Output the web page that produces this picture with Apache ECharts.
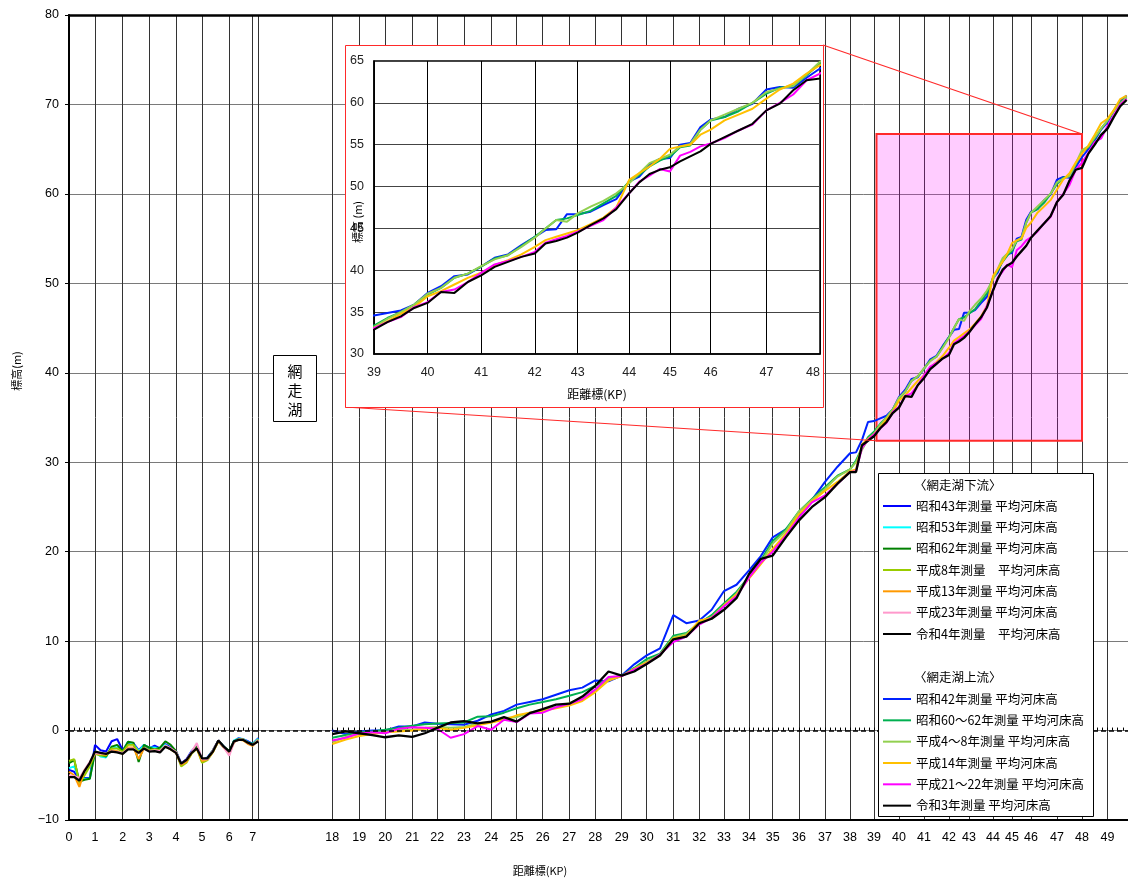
<!DOCTYPE html>
<html><head><meta charset="utf-8">
<script src="https://cdn.jsdelivr.net/npm/echarts@6/dist/echarts.min.js"></script>
<style>html,body{margin:0;padding:0;background:#fff}#c{width:1128px;height:879px}</style>
</head><body><div id="c"></div>
<script>
// ---------------- DATA ----------------
// 距離標 (KP) tick labels
const kpLabels = [0,1,2,3,4,5,6,7,18,19,20,21,22,23,24,25,26,27,28,29,30,31,32,33,34,35,36,37,38,39,40,41,42,43,44,45,46,47,48,49];
const insetLabels = [39,40,41,42,43,44,45,46,47,48];

// 網走湖下流 (downstream) cross-section KP
const kpDown = [0,0.2,0.4,0.6,0.8,1,1.2,1.4,1.6,1.8,2,2.2,2.4,2.6,2.8,3,3.2,3.4,3.6,3.8,4,4.2,4.4,4.6,4.8,5,5.2,5.4,5.6,5.8,6,6.2,6.4,6.6,6.8,7,7.2];
const downNames = ['昭和43年測量 平均河床高','昭和53年測量 平均河床高','昭和62年測量 平均河床高','平成8年測量　平均河床高','平成13年測量 平均河床高','平成23年測量 平均河床高','令和4年測量　平均河床高'];
const downS43 = [-4.4,-4.6,-5.5,-5.3,-5.3,-1.6,-2.2,-2.35,-1.2,-0.95,-2.2,-1.35,-1.4,-2.2,-1.6,-2.0,-1.7,-2.0,-1.5,-1.9,-2.3,-3.65,-3.2,-2.3,-1.7,-3.3,-3.0,-2.2,-1.1,-1.8,-2.5,-1.2,-0.85,-1.0,-1.2,-1.5,-0.85];
const downS53 = [-4.2,-4.0,-5.5,-5.4,-5.4,-2.3,-2.9,-3.0,-1.8,-1.9,-2.3,-1.25,-1.5,-2.3,-1.6,-1.9,-1.9,-2.0,-1.6,-2.1,-2.4,-3.7,-3.4,-2.4,-1.8,-3.3,-3.1,-2.2,-1.2,-1.8,-2.4,-1.1,-0.9,-0.95,-1.3,-1.5,-0.9];
const downS62 = [-3.65,-3.3,-5.7,-5.5,-5.4,-2.5,-2.7,-2.9,-1.8,-1.6,-2.3,-1.25,-1.35,-3.5,-1.6,-1.9,-2.1,-1.9,-1.2,-1.6,-2.3,-3.85,-3.45,-2.5,-1.8,-3.45,-3.1,-2.2,-1.1,-1.8,-2.3,-1.2,-0.95,-1.0,-1.4,-1.5,-1.1];
const downH8  = [-3.4,-3.2,-5.9,-5.0,-4.0,-2.6,-2.8,-2.8,-2.0,-2.0,-2.4,-1.6,-1.6,-2.4,-1.9,-2.2,-2.1,-2.2,-1.7,-2.0,-2.4,-4.0,-3.6,-2.6,-2.0,-3.6,-3.3,-2.4,-1.2,-1.9,-2.4,-1.3,-1.0,-1.0,-1.4,-1.6,-1.0];
const downH13 = [-4.6,-5.0,-6.3,-4.4,-3.7,-2.5,-2.6,-2.7,-2.2,-2.3,-2.6,-1.9,-1.9,-3.2,-2.0,-2.3,-2.2,-2.3,-1.8,-2.1,-2.5,-3.8,-3.5,-2.5,-2.0,-3.4,-3.2,-2.4,-1.2,-1.9,-2.6,-1.3,-1.0,-1.1,-1.5,-1.7,-1.1];
const downH23 = [-5.0,-5.1,-5.3,-4.4,-3.5,-2.5,-2.6,-2.6,-2.3,-2.4,-2.5,-2.0,-2.0,-2.5,-2.0,-2.3,-2.2,-2.3,-1.7,-2.0,-2.4,-3.7,-3.3,-2.4,-1.4,-3.2,-3.2,-2.2,-1.1,-1.9,-2.8,-1.3,-1.0,-1.0,-1.4,-1.6,-1.1];
const downR4  = [-5.2,-5.2,-5.6,-4.5,-3.6,-2.35,-2.5,-2.6,-2.35,-2.45,-2.6,-2.1,-2.1,-2.5,-2.0,-2.35,-2.3,-2.45,-1.8,-2.1,-2.5,-3.7,-3.3,-2.5,-2.0,-3.1,-3.1,-2.35,-1.1,-1.8,-2.35,-1.2,-1.05,-1.05,-1.35,-1.6,-1.2];

// 網走湖上流 (upstream) cross-section KP
const kpUp = [18,18.5,19,19.5,20,20.5,21,21.5,22,22.5,23,23.5,24,24.5,25,25.5,26,26.5,27,27.5,28,28.5,29,29.5,30,30.5,31,31.5,32,32.5,33,33.5,34,34.5,35,35.5,36,36.5,37,37.5,38,
  38.25,38.5,38.75,39,39.25,39.5,39.75,40,40.25,40.5,40.75,41,41.25,41.5,41.75,42,42.25,42.5,42.75,43,43.25,43.5,43.75,44,44.25,44.5,44.75,45,45.25,45.5,45.75,46,46.25,46.5,46.75,47,47.25,47.5,47.75,48,48.25,48.5,48.75,49,49.25,49.5,49.75];
const upNames = ['昭和42年測量 平均河床高','昭和60～62年測量 平均河床高','平成4～8年測量 平均河床高','平成14年測量 平均河床高','平成21～22年測量 平均河床高','令和3年測量 平均河床高'];
const upS42 = [0.0,-0.4,-0.1,0.0,0.0,0.45,0.45,0.9,0.75, 0.7,0.65,1.1,1.8,2.2,2.9,3.2,3.5, 4.0,4.5,4.8,5.6,5.5,6.15,7.4,8.4, 9.2,12.9,12.0,12.3,13.5,15.6,16.3,17.9, 19.5,21.6,22.5,24.0,25.8,27.8,29.5,31.0,
  31.1,32.5,34.5,34.6,34.9,35.2,35.9, 37.3,38.1,39.3,39.5,40.45,41.5,41.9,43.0, 44.0,44.8,44.9,46.7,46.7,47.0,47.8,48.5, 50.6,51.2,52.6,53.3,53.4,55.0,55.2,57.1, 58.0,58.3,59.3,59.9,61.6,61.9,61.8,63.0, 64.1,65.0,66.0,67.2,68.0,69.3,70.4,71.0];
const upS60 = [-0.8,-0.5,-0.2,-0.1,0.1,0.3,0.55,0.7,0.8, 0.85,0.9,1.55,1.6,2.0,2.5,2.9,3.2, 3.5,3.9,4.3,5.0,5.8,6.15,7.0,8.0, 8.6,10.6,10.9,12.0,12.9,14.2,15.5,17.2, 19.0,21.2,22.5,24.5,25.9,27.2,28.5,29.2,
  30.2,31.6,32.8,33.4,34.3,35.0,35.9, 37.1,37.9,39.1,39.6,40.45,41.4,41.8,42.9, 44.0,45.0,46.0,46.2,46.6,47.1,48.0,48.9, 50.6,51.4,52.4,53.1,53.6,54.7,54.9,56.8, 57.9,58.3,59.0,60.0,61.1,61.8,62.0,63.3, 64.7,65.2,66.2,67.3,68.2,69.3,70.2,70.8];
const upH4 = [-1.3,-0.7,-0.4,-0.3,-0.2,0.1,0.1,0.3,0.4, 0.3,0.4,0.8,0.9,1.4,1.5,2.0,2.3, 2.6,3.1,3.6,4.5,5.8,6.1,6.9,7.7, 8.5,10.4,10.8,12.1,12.7,14.0,15.3,17.2, 18.8,20.9,22.3,24.5,25.8,27.0,28.4,29.2,
  30.0,31.4,32.6,33.2,34.2,35.0,35.9, 37.2,37.9,39.1,39.6,40.5,41.3,41.8,42.8, 43.9,45.0,46.0,45.8,46.8,47.6,48.3,49.2, 50.4,51.6,52.8,53.3,53.8,54.8,55.1,56.8, 57.9,58.6,59.3,60.0,61.3,61.7,62.0,63.4, 64.9,65.3,66.3,67.3,68.2,69.3,70.1,70.8];
const upH14 = [-1.5,-1.0,-0.6,-0.4,-0.2,-0.1,0.0,0.2,0.3, 0.1,0.3,0.6,0.9,1.2,1.7,2.0,2.2, 2.5,2.8,3.3,4.3,5.6,6.1,6.9,7.6, 8.4,10.3,10.6,12.3,12.6,14.0,15.2,17.0, 18.6,20.3,22.0,24.2,25.6,26.8,27.8,29.0,
  29.2,32.0,32.6,33.1,33.9,34.8,35.6, 36.9,37.5,38.3,39.1,39.7,40.6,41.2,41.9, 42.8,43.6,44.0,44.4,44.8,45.5,46.3,47.5, 50.8,51.6,52.4,53.3,54.5,54.8,55.0,56.2, 56.8,57.9,58.6,59.3,60.5,61.6,62.3,63.5, 64.5,65.4,66.6,67.9,68.4,69.4,70.6,71.0];
const upH21 = [-1.1,-0.8,-0.3,-0.2,-0.3,0.2,0.37,0.3,0.2, -0.8,-0.4,0.5,0.1,1.2,0.95,1.9,2.0, 2.6,3.0,3.5,4.6,6.0,6.1,6.8,7.45, 8.5,9.9,10.5,11.85,12.6,13.9,15.0,17.1, 18.8,20.0,21.8,23.8,25.5,26.3,27.6,28.9,
  29.0,31.6,32.5,33.1,33.8,34.4,35.6, 36.2,37.4,37.7,38.6,39.7,40.7,41.1,41.6, 42.2,43.3,43.7,44.1,44.6,45.3,46.0,47.5, 49.2,50.6,51.3,52.1,51.8,53.7,54.15,54.8, 55.15,55.8,56.7,57.4,59.1,60.0,61.0,62.7, 63.5,64.6,65.8,66.2,67.6,68.8,70.0,70.6];
const upR3 = [-0.4,-0.1,-0.3,-0.5,-0.75,-0.55,-0.7,-0.3,0.3, 0.9,1.05,0.8,1.0,1.5,1.0,1.95,2.4, 2.9,3.0,3.8,5.0,6.6,6.15,6.6,7.45, 8.4,10.2,10.5,12.0,12.5,13.5,14.8,17.5, 19.2,19.55,21.6,23.5,25.0,26.1,27.6,28.9,
  28.9,31.9,32.4,32.9,33.8,34.5,35.5, 36.1,37.4,37.3,38.6,39.4,40.4,41.0,41.6, 42.0,43.2,43.5,43.9,44.5,45.4,46.2,47.3, 49.2,50.5,51.5,52.0,52.3,53.0,53.6,54.2, 55.1,55.9,56.7,57.5,59.1,59.9,61.5,62.7, 62.9,64.5,65.5,66.6,67.3,68.6,69.8,70.5];

// ---------------- LAYOUT (distance-axis scale, styles) ----------------
// the KP axis of the original is not uniform: each KP marker sits at its own offset along the axis
const axisKP  = [0,1,2,3,4,5,6,7,7.2,18,19,20,21,22,23,24,25,26,27,28,29,30,31,32,33,34,35,36,37,38,39,40,41,42,43,44,45,46,47,48,49,50];
const axisOff = [0,26,53.7,80.3,107,133,160.3,183.7,189.3,263.3,290.3,316.3,343.3,368.3,395,422.3,447.7,473.7,500.3,526.3,552.7,577.7,604.3,630.3,655,680,703.7,730,756,781,805,830,855,880,900,924,943,962,988,1013,1038.5,1064];
const AXIS_MAX = 1059;
function pos(kp){
  for (let i=1;i<axisKP.length;i++){
    if (kp<=axisKP[i]){const t=(kp-axisKP[i-1])/(axisKP[i]-axisKP[i-1]);return axisOff[i-1]+t*(axisOff[i]-axisOff[i-1]);}
  }
  const n=axisKP.length-1;return axisOff[n]+(kp-axisKP[n])*(axisOff[n]-axisOff[n-1])/(axisKP[n]-axisKP[n-1]);
}
function kpLabel(v, list){const k=list.find(k=>Math.abs(pos(k)-v)<0.05);return k===undefined?'':String(k);}

const downColors = ['#0000FF','#00FFFF','#008000','#99CC00','#FF9900','#FF99CC','#000000'];
const upColors = ['#0022FF','#00B050','#92D050','#FFC000','#FF00FF','#000000'];
const zoomBox = {kpFrom:39.1, kpTo:48, elevFrom:32.4, elevTo:66.7};
const insetFrame = {x:345, y:45, w:478, h:362};

const JP = '"Noto Sans CJK JP", sans-serif';
const NUM = '"Liberation Sans Narrow", "Liberation Sans", sans-serif';

const downSeriesVals = [downS43,downS53,downS62,downH8,downH13,downH23,downR4];
const upSeriesVals = [upS42,upS60,upH4,upH14,upH21,upR3];

const gridTicks = kpLabels.concat([7.2]).map(pos);
const minorTicks = [];
for (let i=0;i<=36;i++) minorTicks.push(pos(i*0.2));
for (let i=0;i<=159;i++) minorTicks.push(pos(18+i*0.2));

const series = [];
downSeriesVals.forEach((vals,si)=>{
  series.push({type:'line', name:downNames[si], xAxisIndex:0, yAxisIndex:0, z:2, symbol:'none', showSymbol:false, animation:false,
    lineStyle:{width: si===6?2.3:2, color:downColors[si]}, itemStyle:{color:downColors[si]},
    data:kpDown.map((k,i)=>[pos(k), vals[i]])});
});
upSeriesVals.forEach((vals,si)=>{
  series.push({type:'line', name:upNames[si], xAxisIndex:0, yAxisIndex:0, z:2, symbol:'none', showSymbol:false, animation:false,
    lineStyle:{width: si===5?2.3:2, color:upColors[si]}, itemStyle:{color:upColors[si]},
    data:kpUp.map((k,i)=>[pos(k), vals[i]])});
});
// markers: dashed zero line and pink zoom area
series.push({type:'line', name:'_marks', xAxisIndex:0, yAxisIndex:0, z:3, data:[], animation:false,
  markLine:{silent:true, symbol:'none', label:{show:false}, lineStyle:{color:'#000', type:[5,3], width:1.5}, data:[{yAxis:0}]},
  markArea:{silent:true, itemStyle:{color:'rgba(255,0,255,0.2)', borderColor:'#ff2a2a', borderWidth:2},
    data:[[{coord:[pos(zoomBox.kpFrom), zoomBox.elevTo]},{coord:[pos(zoomBox.kpTo), zoomBox.elevFrom]}]]}
});
// inset copies of upstream series
upSeriesVals.forEach((vals,si)=>{
  series.push({type:'line', name:upNames[si], xAxisIndex:3, yAxisIndex:1, z:6, symbol:'none', showSymbol:false, animation:false, clip:true,
    lineStyle:{width:2, color:upColors[si]}, itemStyle:{color:upColors[si]},
    data:kpUp.map((k,i)=>[pos(k), vals[i]])});
});

const chart = echarts.init(document.getElementById('c'), null, {renderer:'canvas'});
const legendCommon = {orient:'vertical', left:883, padding:0, itemWidth:28, itemHeight:2, itemGap:7.33, icon:'rect',
  selectedMode:false, z:8, textStyle:{fontSize:12.5, color:'#000', fontFamily:JP, lineHeight:14}};

chart.setOption({
  animation:false,
  backgroundColor:'#fff',
  grid:[
    {left:69, top:15, width:AXIS_MAX, height:805, outerBoundsMode:'none', containLabel:false},
    {left:374, top:61, width:446, height:293, outerBoundsMode:'none', containLabel:false, show:true, borderColor:'#000', borderWidth:1.5, z:5}
  ],
  xAxis:[
    {type:'value', gridIndex:0, min:0, max:AXIS_MAX, position:'bottom',
      axisLine:{show:true, onZero:false, lineStyle:{color:'#000', width:2}},
      axisTick:{show:false, customValues:gridTicks},
      axisLabel:{customValues:kpLabels.map(pos), formatter:v=>kpLabel(v,kpLabels), fontSize:12.5, color:'#000', fontFamily:NUM, margin:11},
      splitLine:{show:true, lineStyle:{color:'#333', width:1}}},
    {type:'value', gridIndex:0, min:0, max:AXIS_MAX, position:'bottom',
      axisLine:{show:false}, axisLabel:{show:false}, splitLine:{show:false},
      axisTick:{show:true, inside:true, length:3, customValues:minorTicks, lineStyle:{color:'#000', width:1}}},
    {type:'value', gridIndex:0, min:0, max:AXIS_MAX, position:'top',
      axisLine:{show:true, onZero:false, lineStyle:{color:'#000', width:2.5}}, axisTick:{show:false}, axisLabel:{show:false}, splitLine:{show:false}},
    {type:'value', gridIndex:1, min:pos(39), max:pos(48), position:'bottom', z:5,
      name:'距離標(KP)', nameLocation:'middle', nameGap:34, nameMoveOverlap:false, nameTextStyle:{fontSize:12, color:'#000', fontFamily:JP},
      axisLine:{show:true, onZero:false, lineStyle:{color:'#000', width:1.5}},
      axisTick:{show:false, customValues:insetLabels.map(pos)},
      axisLabel:{customValues:insetLabels.map(pos), formatter:v=>kpLabel(v,insetLabels), fontSize:12.5, color:'#222', fontFamily:'"Liberation Sans", sans-serif', margin:12, alignMaxLabel:'right'},
      splitLine:{show:true, lineStyle:{color:'#000', width:1}}}
  ],
  yAxis:[
    {type:'value', gridIndex:0, min:-10, max:80, interval:10,
      axisLine:{show:true, onZero:false, lineStyle:{color:'#000', width:2}},
      axisTick:{show:true, length:4, lineStyle:{color:'#000'}},
      axisLabel:{fontSize:12.5, color:'#000', fontFamily:'"Liberation Sans", sans-serif', margin:10, formatter:v=>v<0?'−'+Math.abs(v):String(v)},
      splitLine:{show:true, lineStyle:{color:'#7a7a7a', width:1}}},
    {type:'value', gridIndex:1, min:30, max:65, interval:5, z:5,
      axisLine:{show:true, onZero:false, lineStyle:{color:'#000', width:1.5}},
      axisTick:{show:false},
      axisLabel:{fontSize:12.5, color:'#222', fontFamily:'"Liberation Sans", sans-serif', margin:10},
      splitLine:{show:true, lineStyle:{color:'#444', width:1}}}
  ],
  legend:[
    Object.assign({data:downNames, top:499}, legendCommon),
    Object.assign({data:upNames, top:692}, legendCommon)
  ],
  series:series
});

// annotations: inset frame, legend frame, lake label, axis titles, connector lines
const pTR = chart.convertToPixel({xAxisIndex:0, yAxisIndex:0}, [pos(zoomBox.kpTo), zoomBox.elevTo]);
const pBL = chart.convertToPixel({xAxisIndex:0, yAxisIndex:0}, [pos(zoomBox.kpFrom), zoomBox.elevFrom]);
chart.setOption({graphic:[
  {type:'line', z:3, shape:{x1:insetFrame.x+insetFrame.w, y1:insetFrame.y, x2:pTR[0], y2:pTR[1]}, style:{stroke:'#ff2a2a', lineWidth:1.2}},
  {type:'line', z:3, shape:{x1:insetFrame.x, y1:insetFrame.y+insetFrame.h, x2:pBL[0], y2:pBL[1]}, style:{stroke:'#ff2a2a', lineWidth:1.2}},
  {type:'rect', z:4, shape:{x:insetFrame.x+0.5, y:insetFrame.y+0.5, width:insetFrame.w, height:insetFrame.h}, style:{fill:'#fff', stroke:'#ff2a2a', lineWidth:1}},
  {type:'text', z:9, x:358, y:222, rotation:Math.PI/2, style:{text:'標高 (m)', font:'11px '+JP, fill:'#000', align:'center', verticalAlign:'middle', textAlign:'center', textVerticalAlign:'middle'}},
  {type:'rect', z:7, shape:{x:878.5, y:473.5, width:215, height:343}, style:{fill:'#fff', stroke:'#000', lineWidth:1}},
  {type:'text', z:8, x:914, y:485, style:{text:'〈網走湖下流〉', font:'12.5px '+JP, fill:'#000', verticalAlign:'middle', textVerticalAlign:'middle'}},
  {type:'text', z:8, x:914, y:677, style:{text:'〈網走湖上流〉', font:'12.5px '+JP, fill:'#000', verticalAlign:'middle', textVerticalAlign:'middle'}},
  {type:'rect', z:7, shape:{x:273.5, y:355.5, width:43, height:66}, style:{fill:'#fff', stroke:'#000', lineWidth:1}},
  {type:'text', z:8, x:295, y:390, style:{text:'網\n走\n湖', font:'15px '+JP, lineHeight:19, fill:'#000', align:'center', verticalAlign:'middle', textAlign:'center', textVerticalAlign:'middle'}},
  {type:'text', z:8, x:540, y:871, style:{text:'距離標(KP)', font:'11px '+JP, fill:'#000', align:'center', verticalAlign:'middle', textAlign:'center', textVerticalAlign:'middle'}},
  {type:'text', z:8, x:17, y:371, rotation:Math.PI/2, style:{text:'標高(m)', font:'11px '+JP, fill:'#000', align:'center', verticalAlign:'middle', textAlign:'center', textVerticalAlign:'middle'}}
]});
</script>
</body></html>
